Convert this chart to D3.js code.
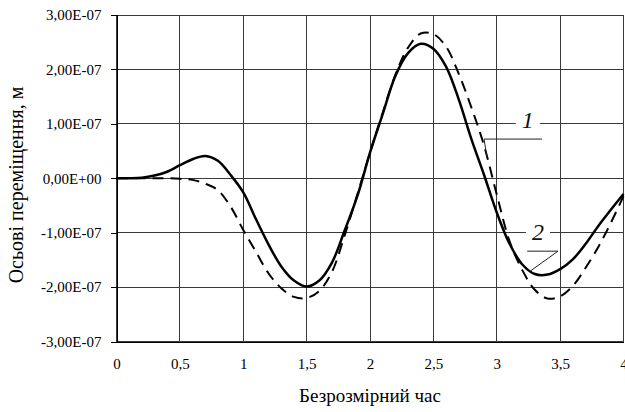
<!DOCTYPE html>
<html>
<head>
<meta charset="utf-8">
<script src="https://cdn.jsdelivr.net/npm/d3@7/dist/d3.min.js"></script>
<style>
  svg text { font-family: "Liberation Serif", serif; }
</style>
</head>
<body style="margin:0">
<svg id="chart" width="625" height="412"></svg>
<script>
// Dimensionless time
const timeValues = [0, 0.1, 0.2, 0.3, 0.4, 0.5, 0.6, 0.7, 0.8, 0.9,
  1.0, 1.1, 1.2, 1.3, 1.4, 1.5, 1.6, 1.7, 1.8, 1.9,
  2.0, 2.1, 2.2, 2.3, 2.4, 2.5, 2.6, 2.7, 2.8, 2.9,
  3.0, 3.1, 3.2, 3.3, 3.4, 3.5, 3.6, 3.7, 3.8, 3.9, 4.0];

// Axial displacement, units of 1e-7 m
const curve1 = [0, 0, 0.01, 0.05, 0.12, 0.24, 0.35, 0.41, 0.32, 0.06,
  -0.26, -0.75, -1.22, -1.62, -1.88, -1.99, -1.88, -1.55, -0.96, -0.33,
  0.47, 1.18, 1.88, 2.30, 2.47, 2.38, 2.05, 1.45, 0.72, 0.06,
  -0.63, -1.20, -1.58, -1.76, -1.77, -1.67, -1.49, -1.21, -0.88, -0.58, -0.29];

const curve2 = [0, 0, 0, 0, 0, -0.01, -0.03, -0.10, -0.22, -0.52,
  -0.95, -1.35, -1.75, -2.02, -2.18, -2.20, -2.07, -1.72, -1.05, -0.30,
  0.47, 1.20, 1.90, 2.40, 2.66, 2.65, 2.42, 1.92, 1.30, 0.60,
  -0.30, -1.15, -1.68, -2.05, -2.21, -2.17, -1.98, -1.65, -1.27, -0.82, -0.33];

const xTicks = [0, 0.5, 1, 1.5, 2, 2.5, 3, 3.5, 4];
const xTickLabels = ["0", "0,5", "1", "1,5", "2", "2,5", "3", "3,5", "4"];
const yTicks = [-3e-7, -2e-7, -1e-7, 0, 1e-7, 2e-7, 3e-7];
const yTickLabels = ["-3,00E-07", "-2,00E-07", "-1,00E-07", "0,00E+00", "1,00E-07", "2,00E-07", "3,00E-07"];

const xTitle = "Безрозмірний час";
const yTitle = "Осьові переміщення, м";

// Callouts: label text, label position, shelf [x1, x2, y], tip (data units)
const callouts = [
  { text: "1", label: [3.245, 1.07e-7], shelf: [3.357, 2.90, 0.72e-7], tip: [2.923, 0.37e-7] },
  { text: "2", label: [3.325, -0.99e-7], shelf: [3.24, 3.483, -1.34e-7], tip: [3.262, -1.71e-7] }
];

const svg = d3.select("#chart");
const x = d3.scaleLinear().domain([0, 4]).range([116.5, 623.5]);
const y = d3.scaleLinear().domain([-3e-7, 3e-7]).range([341.5, 15]);

// Grid
const grid = svg.append("g").attr("stroke", "#3a3a3a").attr("stroke-width", 1).attr("shape-rendering", "crispEdges");
grid.selectAll("line.v").data(xTicks).join("line")
  .attr("x1", d => x(d)).attr("x2", d => x(d))
  .attr("y1", y(3e-7)).attr("y2", y(-3e-7));
grid.selectAll("line.h").data(yTicks).join("line")
  .attr("x1", x(0)).attr("x2", x(4))
  .attr("y1", d => y(d)).attr("y2", d => y(d));

// Y axis
const yAxis = d3.axisLeft(y).tickValues(yTicks)
  .tickFormat((d, i) => yTickLabels[i]).tickSize(6).tickPadding(9);
const gy = svg.append("g").attr("transform", `translate(${x(0)},0)`).call(yAxis)
  .attr("font-family", null).attr("font-size", 15);
gy.select(".domain").attr("stroke", "#000").attr("shape-rendering", "crispEdges");
gy.selectAll(".tick line").attr("stroke", "#000").attr("shape-rendering", "crispEdges");
gy.selectAll("text").attr("fill", "#000");

// X axis
const xAxis = d3.axisBottom(x).tickValues(xTicks)
  .tickFormat((d, i) => xTickLabels[i]).tickSize(0).tickPadding(17);
const gx = svg.append("g").attr("transform", `translate(0,${y(-3e-7)})`).call(xAxis)
  .attr("font-family", null).attr("font-size", 15);
gx.select(".domain").attr("stroke", "#000").attr("shape-rendering", "crispEdges");
gx.selectAll("text").attr("fill", "#000");

// Axis titles
svg.append("text").attr("x", x(2)).attr("y", 402).attr("text-anchor", "middle")
  .attr("font-size", 19).attr("fill", "#000").text(xTitle);
svg.append("text").attr("transform", "translate(23,185) rotate(-90)").attr("text-anchor", "middle")
  .attr("font-size", 20).attr("fill", "#000").text(yTitle);

// Curves
const line = d3.line().x(d => x(d[0])).y(d => y(d[1] * 1e-7)).curve(d3.curveCatmullRom.alpha(0.5));
svg.append("path").datum(timeValues.map((t, i) => [t, curve2[i]]))
  .attr("fill", "none").attr("stroke", "#000").attr("stroke-width", 2)
  .attr("stroke-dasharray", "11,7").attr("d", line);
svg.append("path").datum(timeValues.map((t, i) => [t, curve1[i]]))
  .attr("fill", "none").attr("stroke", "#000").attr("stroke-width", 2.5).attr("d", line);

// Callouts
callouts.forEach(c => {
  const g = svg.append("g");
  const lx = x(c.label[0]), ly = y(c.label[1]);
  g.append("rect").attr("x", lx - 12).attr("y", ly - 13).attr("width", 24).attr("height", 26).attr("fill", "#fff");
  g.append("text").attr("x", lx).attr("y", ly + 8).attr("text-anchor", "middle")
    .attr("font-style", "italic").attr("font-size", 24).attr("fill", "#111").text(c.text);
  const sy = y(c.shelf[2]);
  g.append("polyline")
    .attr("points", `${x(c.shelf[0])},${sy} ${x(c.shelf[1])},${sy} ${x(c.tip[0])},${y(c.tip[1])}`)
    .attr("fill", "none").attr("stroke", "#222").attr("stroke-width", 1);
});
</script>
</body>
</html>
